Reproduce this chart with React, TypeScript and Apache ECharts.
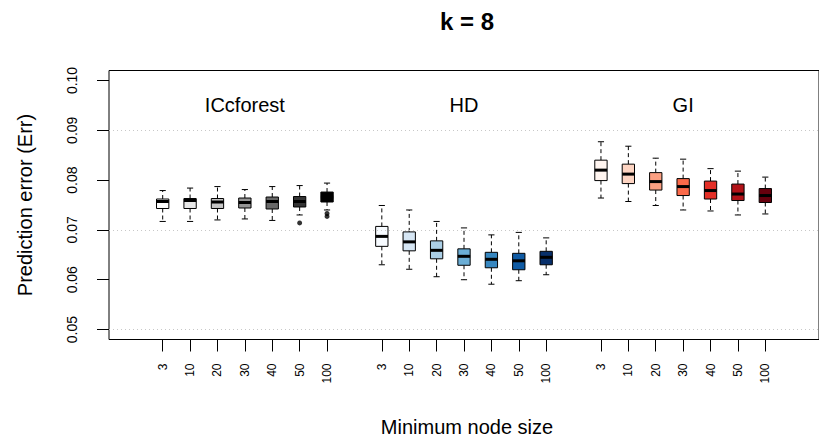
import React, { useEffect, useRef } from "react";
import * as echarts from "echarts";

const titleText = "k = 8";
const groupNames = ["ICcforest", "HD", "GI"];
const nodeSizes = ["3", "10", "20", "30", "40", "50", "100"];
const yTicks = [0.05, 0.06, 0.07, 0.08, 0.09, 0.1];
const gridValues = [0.05, 0.07, 0.09];

// [min whisker, Q1, median, Q3, max whisker]
const icStats = [
  [0.0717, 0.0743, 0.0757, 0.0762, 0.0779],
  [0.0717, 0.0743, 0.0759, 0.0763, 0.0784],
  [0.072, 0.0743, 0.0756, 0.0763, 0.0787],
  [0.0722, 0.0744, 0.0755, 0.0764, 0.0781],
  [0.0719, 0.0742, 0.0757, 0.0766, 0.0787],
  [0.073, 0.0746, 0.0757, 0.0767, 0.0789],
  [0.074, 0.0756, 0.0766, 0.0776, 0.0794],
];
const hdStats = [
  [0.063, 0.0667, 0.0687, 0.0707, 0.0749],
  [0.0621, 0.0658, 0.0676, 0.0696, 0.074],
  [0.0606, 0.0642, 0.0659, 0.0678, 0.0717],
  [0.06, 0.0629, 0.0647, 0.0662, 0.0704],
  [0.0591, 0.0624, 0.0641, 0.0655, 0.069],
  [0.0598, 0.062, 0.0638, 0.0653, 0.0695],
  [0.061, 0.063, 0.0645, 0.0657, 0.0684],
];
const giStats = [
  [0.0764, 0.0799, 0.082, 0.084, 0.0877],
  [0.0757, 0.0793, 0.0812, 0.0832, 0.0868],
  [0.0749, 0.078, 0.0797, 0.0815, 0.0844],
  [0.074, 0.0769, 0.0787, 0.0803, 0.0842],
  [0.0738, 0.0762, 0.0779, 0.0798, 0.0823],
  [0.073, 0.0759, 0.0772, 0.0792, 0.0818],
  [0.0732, 0.0755, 0.0769, 0.0783, 0.0806],
];
// outliers: [group index, box index within group, value]
const outliers = [
  [0, 5, 0.0714],
  [0, 6, 0.0733],
  [0, 6, 0.0727],
];

const greyColors = ["#FFFFFF", "#E8E8E8", "#C6C6C6", "#969696", "#686868", "#343434", "#000000"];
const blueColors = ["#F7FBFF", "#D6E6F4", "#ABCFE6", "#6BAED6", "#3787C0", "#105BA4", "#08306B"];
const redColors = ["#FFF5F0", "#FDD4C2", "#FCA082", "#FB6A4A", "#E32F27", "#B21218", "#67000D"];

const FONT = "'Liberation Sans', Arial, Helvetica, sans-serif";
const BOX_WIDTH = 0.45;
const GROUP_LABEL_Y = 0.09507;

const pos = (g: number, j: number) => g * 8 + j + 1;

export default function App() {
  const ref = useRef<HTMLDivElement>(null);

  useEffect(() => {
    if (!ref.current) return;
    const chart = echarts.init(ref.current, null, { renderer: "svg" });

    const allStats = [icStats, hdStats, giStats];
    const allColors = [...greyColors, ...blueColors, ...redColors];
    const boxData: number[][] = [];
    allStats.forEach((stats, g) =>
      stats.forEach((s, j) => boxData.push([pos(g, j), ...s, g * 7 + j]))
    );
    const outlierData = outliers.map(([g, j, v]) => [pos(g, j), v]);
    const tickPositions: number[] = [];
    groupNames.forEach((_, g) => nodeSizes.forEach((_, j) => tickPositions.push(pos(g, j))));
    const labelData = groupNames.map((n, g) => [pos(g, 3), GROUP_LABEL_Y, g]);

    const option: any = {
      animation: false,
      backgroundColor: "#ffffff",
      textStyle: { fontFamily: FONT },
      grid: {
        left: 109,
        top: 70.5,
        width: 717,
        height: 269,
        show: true,
        borderColor: "#000",
        borderWidth: 1,
        backgroundColor: "transparent",
      },
      xAxis: {
        type: "value",
        min: -0.96,
        max: 24.96,
        axisLine: { show: false, onZero: false },
        splitLine: { show: false },
        axisTick: {
          show: true,
          inside: false,
          length: 12,
          customValues: tickPositions,
          lineStyle: { color: "#000", width: 1 },
        },
        axisLabel: {
          customValues: tickPositions,
          rotate: 90,
          margin: 24,
          fontSize: 12,
          color: "#000",
          fontFamily: FONT,
          formatter: (v: number) => nodeSizes[(Math.round(v) - 1) % 8],
        },
      },
      yAxis: {
        type: "value",
        min: 0.048,
        max: 0.102,
        axisLine: { show: false, onZero: false },
        splitLine: { show: false },
        axisTick: {
          show: true,
          inside: false,
          length: 12,
          customValues: yTicks,
          lineStyle: { color: "#000", width: 1 },
        },
        axisLabel: {
          customValues: yTicks,
          rotate: 90,
          align: "center",
          verticalAlign: "middle",
          margin: 37,
          fontSize: 14,
          color: "#000",
          fontFamily: FONT,
          formatter: (v: number) => v.toFixed(2),
        },
      },
      graphic: [
        {
          type: "text",
          x: 467,
          y: 21,
          style: {
            text: titleText,
            fontSize: 24,
            fontWeight: "bold",
            fontFamily: FONT,
            fill: "#000",
            align: "center",
            verticalAlign: "middle",
          },
        },
        {
          type: "text",
          x: 467,
          y: 427,
          style: {
            text: "Minimum node size",
            fontSize: 20,
            fontFamily: FONT,
            fill: "#000",
            align: "center",
            verticalAlign: "middle",
          },
        },
        {
          type: "text",
          x: 25,
          y: 205,
          rotation: Math.PI / 2,
          style: {
            text: "Prediction error (Err)",
            fontSize: 20,
            fontFamily: FONT,
            fill: "#000",
            align: "center",
            verticalAlign: "middle",
          },
        },
      ],
      series: [
        {
          type: "scatter",
          data: outlierData,
          symbol: "circle",
          symbolSize: 5,
          itemStyle: { color: "#000" },
          silent: true,
          z: 5,
          markLine: {
            silent: true,
            symbol: ["none", "none"],
            label: { show: false },
            lineStyle: { type: [1, 3], color: "#c8c8c8", width: 1 },
            emphasis: { disabled: true },
            data: gridValues.map((v) => ({ yAxis: v })),
          },
        },
        {
          type: "custom",
          data: boxData,
          silent: true,
          z: 3,
          renderItem: (params: any, api: any) => {
            const x = api.value(0);
            const cx = api.coord([x, api.value(1)])[0];
            const yMin = api.coord([x, api.value(1)])[1];
            const yQ1 = api.coord([x, api.value(2)])[1];
            const yMed = api.coord([x, api.value(3)])[1];
            const yQ3 = api.coord([x, api.value(4)])[1];
            const yMax = api.coord([x, api.value(5)])[1];
            const w = api.size([BOX_WIDTH, 0])[0];
            const cap = w / 4;
            const fill = allColors[api.value(6)];
            const dash = { stroke: "#000", lineWidth: 1, lineDash: [4, 3] };
            const solid = { stroke: "#000", lineWidth: 1 };
            return {
              type: "group",
              children: [
                { type: "line", shape: { x1: cx, y1: yQ3, x2: cx, y2: yMax }, style: dash },
                { type: "line", shape: { x1: cx, y1: yQ1, x2: cx, y2: yMin }, style: dash },
                { type: "line", shape: { x1: cx - cap, y1: yMax, x2: cx + cap, y2: yMax }, style: solid },
                { type: "line", shape: { x1: cx - cap, y1: yMin, x2: cx + cap, y2: yMin }, style: solid },
                {
                  type: "rect",
                  shape: { x: cx - w / 2, y: yQ3, width: w, height: yQ1 - yQ3 },
                  style: { fill, stroke: "#000", lineWidth: 1 },
                },
                {
                  type: "line",
                  shape: { x1: cx - w / 2, y1: yMed, x2: cx + w / 2, y2: yMed },
                  style: { stroke: "#000", lineWidth: 3 },
                },
              ],
            };
          },
        },
        {
          type: "custom",
          data: labelData,
          silent: true,
          z: 4,
          renderItem: (params: any, api: any) => {
            const p = api.coord([api.value(0), api.value(1)]);
            return {
              type: "text",
              x: p[0],
              y: p[1],
              style: {
                text: groupNames[api.value(2)],
                fontSize: 20,
                fontFamily: FONT,
                fill: "#000",
                align: "center",
                verticalAlign: "middle",
              },
            };
          },
        },
      ],
    };

    chart.setOption(option);
    return () => chart.dispose();
  }, []);

  return (
    <div
      ref={ref}
      style={{ position: "absolute", left: 0, top: 0, width: 819, height: 441, background: "#fff" }}
    />
  );
}
